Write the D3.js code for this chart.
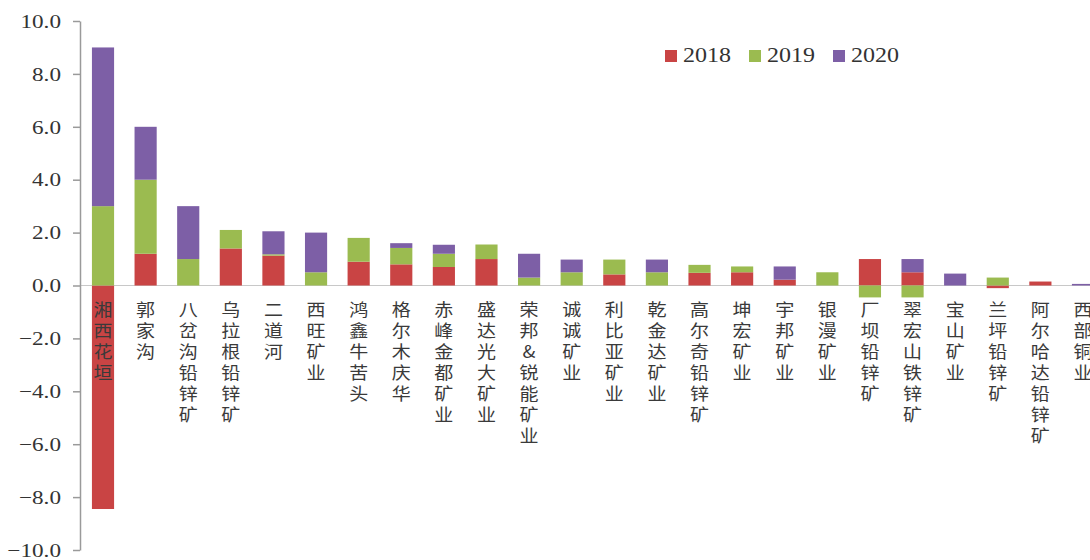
<!DOCTYPE html>
<html><head><meta charset="utf-8">
<script src="https://cdn.jsdelivr.net/npm/d3@7"></script>
<style>
html,body{margin:0;padding:0;background:#fff;}
svg{display:block;}
.vlab{writing-mode:vertical-rl;text-orientation:upright;}
</style></head>
<body>
<svg id="chart" width="1090" height="560"></svg>
<script>
const categories = ["湘西花垣","郭家沟","八岔沟铅锌矿","乌拉根铅锌矿","二道河","西旺矿业","鸿鑫牛苦头","格尔木庆华","赤峰金都矿业","盛达光大矿业","荣邦&锐能矿业","诚诚矿业","利比亚矿业","乾金达矿业","高尔奇铅锌矿","坤宏矿业","宇邦矿业","银漫矿业","厂坝铅锌矿","翠宏山铁锌矿","宝山矿业","兰坪铅锌矿","阿尔哈达铅锌矿","西部铜业"];
const seriesNames = ["2018","2019","2020"];
const v2018 = [-8.45,1.2,0,1.4,1.13,0,0.9,0.8,0.7,1.0,0,0,0.42,0,0.48,0.5,0.22,0,1.0,0.5,0,-0.1,0.15,0];
const v2019 = [3.0,2.8,1.0,0.7,0.05,0.5,0.9,0.62,0.5,0.55,0.3,0.5,0.56,0.5,0.3,0.22,0,0.5,-0.45,-0.45,0,0.3,0,0];
const v2020 = [6.0,2.0,2.0,0,0.87,1.5,0,0.18,0.34,0,0.9,0.48,0,0.48,0,0,0.5,0,0,0.5,0.45,0,0,0.06];
const yTicks = [-10,-8,-6,-4,-2,0,2,4,6,8,10];
const colors = ["#C94444","#9BBB50","#7D5FA6"];

const rows = categories.map((c,i)=>({cat:c,"2018":v2018[i],"2019":v2019[i],"2020":v2020[i]}));
const stack = d3.stack().keys(seriesNames).offset(d3.stackOffsetDiverging);
const layers = stack(rows);

const svg = d3.select("#chart");
const x = d3.scaleBand().domain(categories).range([80,1106]).paddingInner(0.48).paddingOuter(0.28);
const y = d3.scaleLinear().domain([-10,10]).range([550,21]);
const color = d3.scaleOrdinal().domain(seriesNames).range(colors);

// zero line
svg.append("line").attr("x1",80).attr("x2",1090).attr("y1",y(0)).attr("y2",y(0))
  .attr("stroke","#c8c8c8").attr("stroke-width",1.2);

// bars
svg.append("g").selectAll("g").data(layers).join("g")
  .attr("fill",d=>color(d.key))
  .selectAll("rect").data(d=>d).join("rect")
  .attr("x",d=>x(d.data.cat))
  .attr("width",x.bandwidth())
  .attr("y",d=>y(Math.max(d[0],d[1])))
  .attr("height",d=>Math.abs(y(d[0])-y(d[1])));

// y axis
const yAxis = d3.axisLeft(y).tickValues(yTicks).tickFormat(d3.format(".1f")).tickSize(7).tickSizeOuter(0);
const gy = svg.append("g").attr("transform","translate(80,0)").call(yAxis);
gy.select(".domain").attr("stroke","#9a9a9a").attr("stroke-width",1.5);
gy.selectAll(".tick line").attr("stroke","#9a9a9a").attr("stroke-width",1.5);
gy.selectAll(".tick text").remove();
gy.selectAll(".tick").append("text")
  .attr("fill","#333")
  .attr("font-family","'Liberation Serif','Times New Roman',serif")
  .attr("font-size",19)
  .attr("text-anchor","end")
  .attr("dy","0.33em")
  .attr("transform","translate(-19,0) scale(1.22,1)")
  .text(d=>d3.format(".1f")(d));

// category labels (vertical, upright characters)
const lab = svg.append("g")
  .attr("font-family","'Noto Sans CJK SC','Noto Sans',sans-serif")
  .attr("font-size",17)
  .attr("fill","#3a3a3a");
categories.forEach(c=>{
  const cx = x(c)+x.bandwidth()/2;
  lab.append("text")
    .attr("class","vlab")
    .attr("letter-spacing","4px")
    .attr("transform",`translate(${cx},301) scale(1.12,1)`)
    .attr("x",0).attr("y",0)
    .text(c);
});

// legend
const lg = svg.append("g");
seriesNames.forEach((s,i)=>{
  const lx = 665 + i*84;
  lg.append("rect").attr("x",lx).attr("y",50).attr("width",12).attr("height",12).attr("fill",color(s));
  lg.append("text").attr("transform",`translate(${lx+18},62) scale(1.2,1)`)
    .attr("font-family","'Liberation Serif','Times New Roman',serif")
    .attr("font-size",20).attr("fill","#333").text(s);
});
</script>
</body></html>
